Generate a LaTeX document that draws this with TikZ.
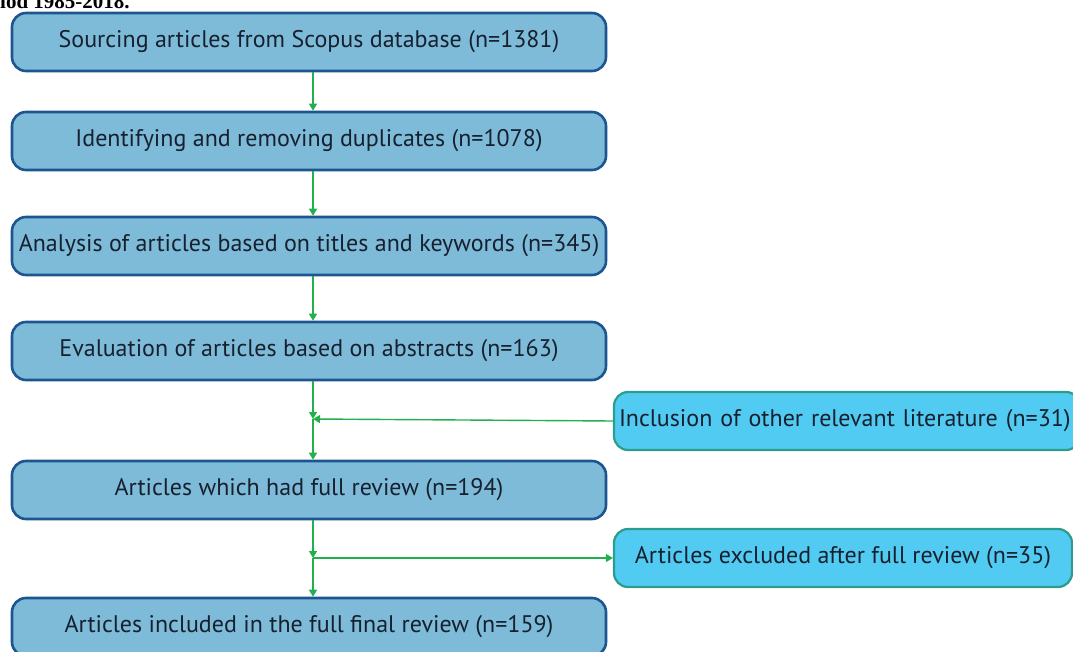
\documentclass[tikz,border=0pt]{standalone}
\usepackage{fontspec}
\setsansfont{PT Sans}
\newfontfamily\capfont{Liberation Serif}
\usetikzlibrary{arrows.meta}
\definecolor{boxfill}{HTML}{7DBBD9}
\definecolor{boxline}{HTML}{1D5591}
\definecolor{sidefill}{HTML}{52CBF2}
\definecolor{sideline}{HTML}{2C9C8C}
\definecolor{arrowgreen}{HTML}{22B04E}
\definecolor{txt}{HTML}{17202E}
\begin{document}
\begin{tikzpicture}[x=1pt,y=-1pt,
  step node/.style={draw=boxline,fill=boxfill,line width=2.6pt,rounded corners=14pt,minimum width=594pt,minimum height=58pt,inner sep=0pt,text=txt,font=\sffamily\fontsize{24}{28}\selectfont},
  side node/.style={draw=sideline,fill=sidefill,line width=2.2pt,rounded corners=14pt,minimum height=58pt,inner sep=0pt,text=txt,font=\sffamily\fontsize{24}{28}\selectfont},
  arr/.style={draw=arrowgreen,line width=1.4pt,-{Triangle[width=8pt,length=7pt]}}]
\useasboundingbox (0,0) rectangle (1073,652);
\clip (0,0) rectangle (1073,652);
\node[anchor=base west,inner sep=0pt,font=\capfont\bfseries\fontsize{21}{24}\selectfont] (cap) at (0,9) {iod 1985-2018.};
\node[step node] (src) at (309,42) {Sourcing articles from Scopus database (n=1381)};
\node[step node] (dup) at (309,141) {Identifying and removing duplicates (n=1078)};
\node[step node] (ttl) at (309,246) {Analysis of articles based on titles and keywords (n=345)};
\node[step node] (abs) at (309,351) {Evaluation of articles based on abstracts (n=163)};
\node[step node] (full) at (309,490) {Articles which had full review (n=194)};
\node[step node] (final) at (309,627) {Articles included in the full final review (n=159)};
\node[side node,minimum width=466pt,text width=466pt,align=left] (incl) at (847,421) {\hspace*{5pt}Inclusion of other relevant literature (n=31)};
\node[side node,minimum width=458pt] (excl) at (843,558) {Articles excluded after full review (n=35)};
\coordinate (jn1) at (313,419);
\coordinate (jn2) at (313,558);
\draw[arr] (src.south -| jn1) -- (dup.north -| jn1);
\draw[arr] (dup.south -| jn1) -- (ttl.north -| jn1);
\draw[arr] (ttl.south -| jn1) -- (abs.north -| jn1);
\draw[arr] (abs.south -| jn1) -- (jn1);
\draw[arr] (jn1) -- (full.north -| jn1);
\draw[arr] (incl.west) -- (jn1);
\draw[arr] (full.south -| jn2) -- (jn2);
\draw[arr] (jn2) -- (final.north -| jn2);
\draw[arr] (jn2) -- (excl.west);
\end{tikzpicture}
\end{document}
